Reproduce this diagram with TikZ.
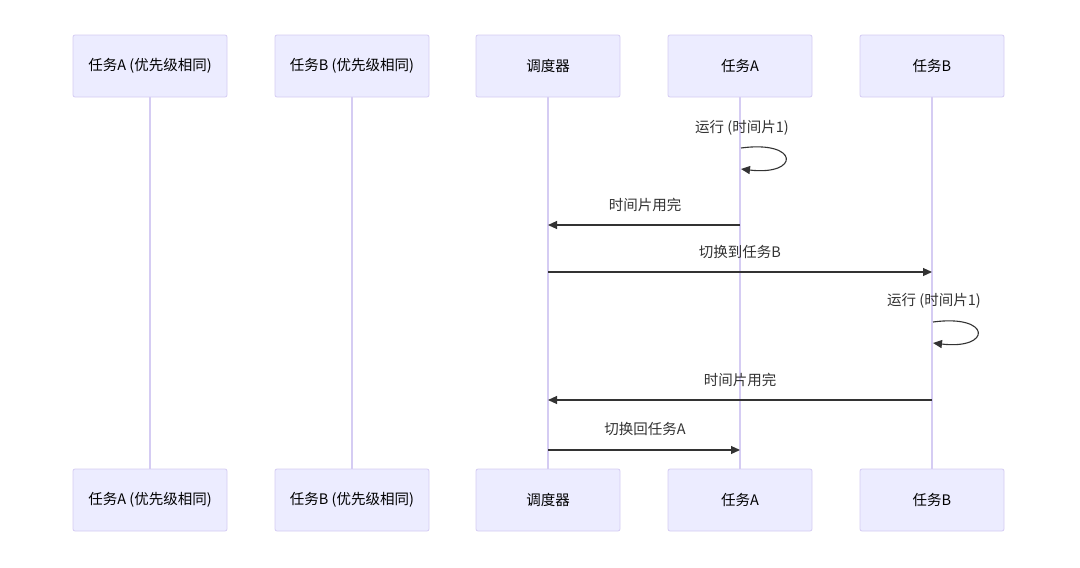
\documentclass[tikz,border=0pt]{standalone}
\usepackage{fontspec}
\setmainfont{Noto Sans CJK SC}
\usetikzlibrary{arrows.meta}
\begin{document}
\begin{tikzpicture}[x=1pt,y=-1pt,
  actor/.style={draw=lifec,fill=actfill,rounded corners=2pt,minimum width=144pt,minimum height=62pt,inner sep=0pt,font=\fontsize{14.5}{17}\selectfont,line width=0.8pt},
  life/.style={draw=lifec,line width=1.3pt},
  msg/.style={draw=msgc,line width=1.1pt,-{Triangle[length=9pt,width=8pt]}},
  lbl/.style={font=\fontsize{14.5}{17}\selectfont,text=msgc,inner sep=0pt}]
\definecolor{lifec}{HTML}{D5CCF3}
\definecolor{actfill}{HTML}{ECECFF}
\definecolor{msgc}{HTML}{333333}
\useasboundingbox (0,0) rectangle (1080,568);
\fill[white] (0,0) rectangle (1080,568);
% lifelines
\coordinate (l1t) at (150,97); \coordinate (l1b) at (150,469);
\coordinate (l2t) at (352,97); \coordinate (l2b) at (352,469);
\coordinate (l3t) at (548,97); \coordinate (l3b) at (548,469);
\coordinate (l4t) at (740,97); \coordinate (l4b) at (740,469);
\coordinate (l5t) at (932,97); \coordinate (l5b) at (932,469);
\draw[life] (l1t) -- (l1b);
\draw[life] (l2t) -- (l2b);
\draw[life] (l3t) -- (l3b);
\draw[life] (l4t) -- (l4b);
\draw[life] (l5t) -- (l5b);
% actors top
\node[actor,minimum width=154pt] (a1) at (150,66) {任务A (优先级相同)};
\node[actor,minimum width=154pt] (a2) at (352,66) {任务B (优先级相同)};
\node[actor] (a3) at (548,66) {调度器};
\node[actor] (a4) at (740,66) {任务A};
\node[actor] (a5) at (932,66) {任务B};
% actors bottom
\node[actor,minimum width=154pt] (b1) at (150,500) {任务A (优先级相同)};
\node[actor,minimum width=154pt] (b2) at (352,500) {任务B (优先级相同)};
\node[actor] (b3) at (548,500) {调度器};
\node[actor] (b4) at (740,500) {任务A};
\node[actor] (b5) at (932,500) {任务B};
% messages
\coordinate (s1a) at (741,148); \coordinate (s1b) at (741,169);
\node[lbl] (t1) at (742,128) {运行 (时间片1)};
\draw[msg] (s1a) .. controls (800,140) and (800,176) .. (s1b);

\coordinate (m2a) at (740,225); \coordinate (m2b) at (548,225);
\node[lbl] (t2) at (645,205) {时间片用完};
\draw[msg] (m2a) -- (m2b);

\coordinate (m3a) at (548,272); \coordinate (m3b) at (932,272);
\node[lbl] (t3) at (740,252) {切换到任务B};
\draw[msg] (m3a) -- (m3b);

\coordinate (s4a) at (933,322); \coordinate (s4b) at (933,343);
\node[lbl] (t4) at (934,301) {运行 (时间片1)};
\draw[msg] (s4a) .. controls (992,314) and (992,350) .. (s4b);

\coordinate (m5a) at (932,400); \coordinate (m5b) at (548,400);
\node[lbl] (t5) at (740,380) {时间片用完};
\draw[msg] (m5a) -- (m5b);

\coordinate (m6a) at (548,450); \coordinate (m6b) at (740,450);
\node[lbl] (t6) at (645,429) {切换回任务A};
\draw[msg] (m6a) -- (m6b);
\end{tikzpicture}
\end{document}
